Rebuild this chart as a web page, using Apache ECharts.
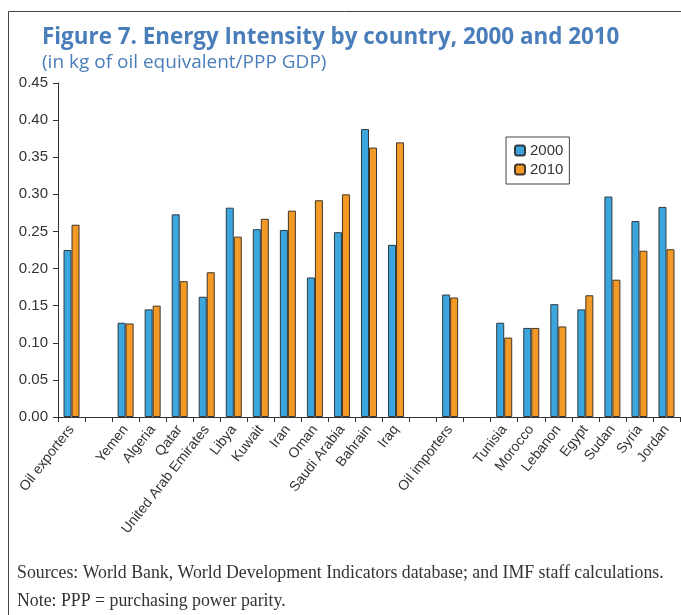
<!DOCTYPE html>
<html>
<head>
<meta charset="utf-8">
<script src="https://cdn.jsdelivr.net/npm/echarts@6/dist/echarts.min.js"></script>
<style>
  html, body { margin: 0; padding: 0; background: #fff; }
  #chart { width: 681px; height: 615px; }
</style>
</head>
<body>
<div id="chart"></div>
<script>
// categories (blank entries are spacer slots between groups)
var categories = ['Oil exporters', '', 'Yemen', 'Algeria', 'Qatar', 'United Arab Emirates', 'Libya',
  'Kuwait', 'Iran', 'Oman', 'Saudi Arabia', 'Bahrain', 'Iraq', '', 'Oil importers', '',
  'Tunisia', 'Morocco', 'Lebanon', 'Egypt', 'Sudan', 'Syria', 'Jordan'];

var values2000 = [0.225, null, 0.127, 0.145, 0.273, 0.162, 0.282,
  0.253, 0.252, 0.188, 0.249, 0.388, 0.232, null, 0.165, null,
  0.127, 0.120, 0.152, 0.145, 0.297, 0.264, 0.283];

var values2010 = [0.259, null, 0.126, 0.150, 0.183, 0.195, 0.243,
  0.267, 0.278, 0.292, 0.300, 0.363, 0.370, null, 0.161, null,
  0.107, 0.120, 0.122, 0.164, 0.185, 0.224, 0.226];

var chart = echarts.init(document.getElementById('chart'));

var titleColor = '#4a7ebb';
var axisColor = '#333';

var option = {
  backgroundColor: '#fff',
  animation: false,
  title: {
    text: 'Figure 7. Energy Intensity by country, 2000 and 2010',
    subtext: '(in kg of oil equivalent/PPP GDP)',
    left: 37,
    top: 22,
    itemGap: 4,
    textStyle: {
      fontFamily: 'Open Sans',
      fontWeight: 'bold',
      fontSize: 22.4,
      color: titleColor
    },
    subtextStyle: {
      fontFamily: 'Open Sans',
      fontSize: 19,
      color: titleColor
    }
  },
  legend: {
    data: ['2000', '2010'],
    orient: 'vertical',
    left: 506,
    top: 137,
    padding: [6, 6, 7, 8],
    itemGap: 4,
    itemWidth: 10,
    itemHeight: 10,
    borderColor: '#444',
    borderWidth: 1,
    textStyle: {
      fontFamily: 'Liberation Sans',
      fontSize: 15,
      color: '#333'
    }
  },
  grid: {
    left: 58,
    right: 1,
    top: 83,
    bottom: 198,
    containLabel: false
  },
  xAxis: {
    type: 'category',
    data: categories,
    boundaryGap: true,
    axisLine: { lineStyle: { color: axisColor, width: 1 } },
    axisTick: { show: true, length: 5, alignWithLabel: false, interval: 0, lineStyle: { color: axisColor } },
    axisLabel: {
      interval: 0,
      rotate: 52,
      margin: 10,
      fontFamily: 'Liberation Sans',
      fontSize: 14,
      color: '#333'
    },
    splitLine: { show: false }
  },
  yAxis: {
    type: 'value',
    min: 0,
    max: 0.45,
    interval: 0.05,
    axisLine: { show: true, lineStyle: { color: axisColor, width: 1 } },
    axisTick: { show: true, length: 5, lineStyle: { color: axisColor } },
    axisLabel: {
      margin: 10,
      fontFamily: 'Liberation Sans',
      fontSize: 15,
      color: '#333',
      formatter: function (v) { return v.toFixed(2); }
    },
    splitLine: { show: false }
  },
  series: [
    {
      name: '2000',
      type: 'bar',
      data: values2000,
      barWidth: 8,
      barGap: '0%',
      itemStyle: { color: '#3aa6dd', borderColor: '#2f3a40', borderWidth: 1 }
    },
    {
      name: '2010',
      type: 'bar',
      data: values2010,
      barWidth: 8,
      barGap: '0%',
      itemStyle: { color: '#f39a26', borderColor: '#40352a', borderWidth: 1 }
    }
  ],
  graphic: [
    {
      type: 'polyline',
      shape: { points: [[8.5, 615], [8.5, 11.5], [681, 11.5]] },
      style: { stroke: '#444', lineWidth: 1, fill: null }
    },
    {
      type: 'text',
      left: 17,
      top: 564,
      style: {
        text: 'Sources: World Bank, World Development Indicators database; and IMF staff calculations.',
        font: '17.8px "Liberation Serif"',
        fill: '#333'
      }
    },
    {
      type: 'text',
      left: 17,
      top: 592,
      style: {
        text: 'Note: PPP = purchasing power parity.',
        font: '17.8px "Liberation Serif"',
        fill: '#333'
      }
    }
  ]
};

chart.setOption(option);
</script>
</body>
</html>
